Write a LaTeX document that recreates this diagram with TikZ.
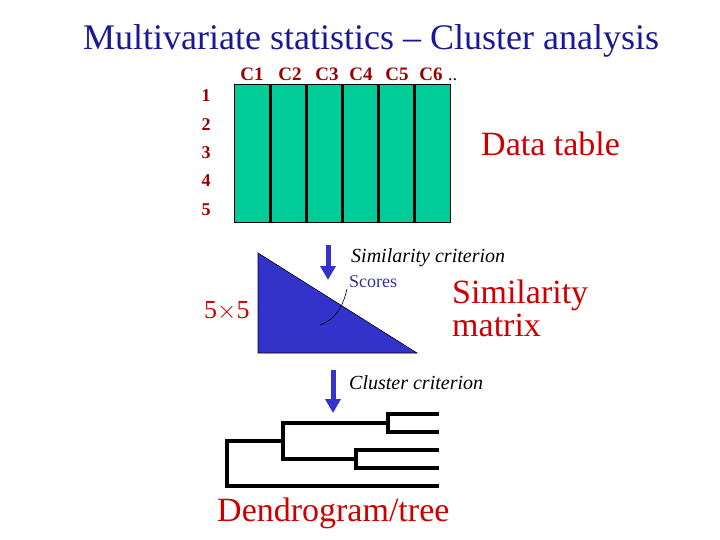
\documentclass[tikz,border=0pt]{standalone}
\usepackage{fontspec}
\setmainfont{Liberation Serif}
\usetikzlibrary{arrows.meta}
\definecolor{titleblue}{RGB}{25,25,150}
\definecolor{tablegreen}{RGB}{0,204,153}
\definecolor{darkred}{RGB}{153,0,0}
\definecolor{brightred}{RGB}{204,0,0}
\definecolor{triblue}{RGB}{51,51,204}
\definecolor{scoreblue}{RGB}{51,51,153}
\tikzset{
  collabel/.style={anchor=base, inner sep=0pt, text=darkred, font=\bfseries\fontsize{19}{19}\selectfont},
  rowlabel/.style={anchor=base, inner sep=0pt, text=darkred, font=\bfseries\fontsize{18}{18}\selectfont},
  bigred/.style={anchor=base west, inner sep=0pt, text=brightred, font=\fontsize{34}{34}\selectfont},
  crit/.style={anchor=base west, inner sep=0pt, font=\itshape\fontsize{20}{20}\selectfont},
  flowarrow/.style={draw=triblue, line width=5pt, -{Triangle[length=14pt,width=15pt]}},
  divider/.style={line width=3pt},
  branch/.style={line width=4pt, line cap=rect}
}
\begin{document}
\begin{tikzpicture}[x=1pt,y=-1pt]
\useasboundingbox (0,0) rectangle (720,540);
% title
\node[anchor=base, inner sep=0pt, text=titleblue, font=\fontsize{36}{36}\selectfont] (title) at (371,50) {Multivariate statistics -- Cluster analysis};
% data table
\node[draw=black, fill=tablegreen, minimum width=216pt, minimum height=138pt, inner sep=0pt, anchor=north west, line width=0.6pt] (table) at (234,84) {};
\foreach \x in {270,306,342,378,414}{
  \draw[divider] (\x,84) -- (\x,222);
}
\foreach \x/\t/\n in {252/C1/c1,290/C2/c2,327/C3/c3,361/C4/c4,397/C5/c5,431/C6/c6}{
  \node[collabel] (\n) at (\x,81) {\t};
}
\node[anchor=base west, inner sep=0pt, font=\fontsize{18}{18}\selectfont] (dots) at (448,81) {..};
\foreach \y/\t in {96/1,125/2,153/3,181/4,209/5}{
  \node[rowlabel] (r\t) at (206,\y+6) {\t};
}
\node[bigred] (datatable) at (481,156) {Data table};
% similarity
\coordinate (a1s) at (328,245);
\coordinate (a1e) at (328,280);
\draw[flowarrow] (a1s) -- (a1e);
\node[crit] (simcrit) at (351,262) {Similarity criterion};
\fill[triblue, draw=black, line width=0.6pt] (258,253) -- (258,353) -- (417,353) -- cycle;
\node[anchor=base west, inner sep=0pt, text=scoreblue, font=\fontsize{18}{18}\selectfont] (scores) at (349,287) {Scores};
\coordinate (curveend) at (320,325);
\draw[line width=0.6pt] (curveend) .. controls (338,318) and (343,305) .. (347,289);
\node[anchor=base west, inner sep=0pt, text=brightred, font=\fontsize{26}{26}\selectfont] (fivebyfive) at (204,318) {5$\times$5};
\node[bigred] (simlabel) at (452,303) {Similarity};
\node[bigred] (matlabel) at (452,336) {matrix};
% cluster
\coordinate (a2s) at (333,370);
\coordinate (a2e) at (333,413);
\draw[flowarrow] (a2s) -- (a2e);
\node[crit] (clcrit) at (349,389) {Cluster criterion};
% dendrogram
\draw[branch] (283,441) -- (227,441) -- (227,486) -- (437,486);
\draw[branch] (388,423) -- (283,423) -- (283,459) -- (356,459);
\draw[branch] (437,414) -- (388,414) -- (388,432) -- (437,432);
\draw[branch] (437,450) -- (356,450) -- (356,468) -- (437,468);
\node[bigred] (dendro) at (217,521) {Dendrogram/tree};
\end{tikzpicture}
\end{document}
